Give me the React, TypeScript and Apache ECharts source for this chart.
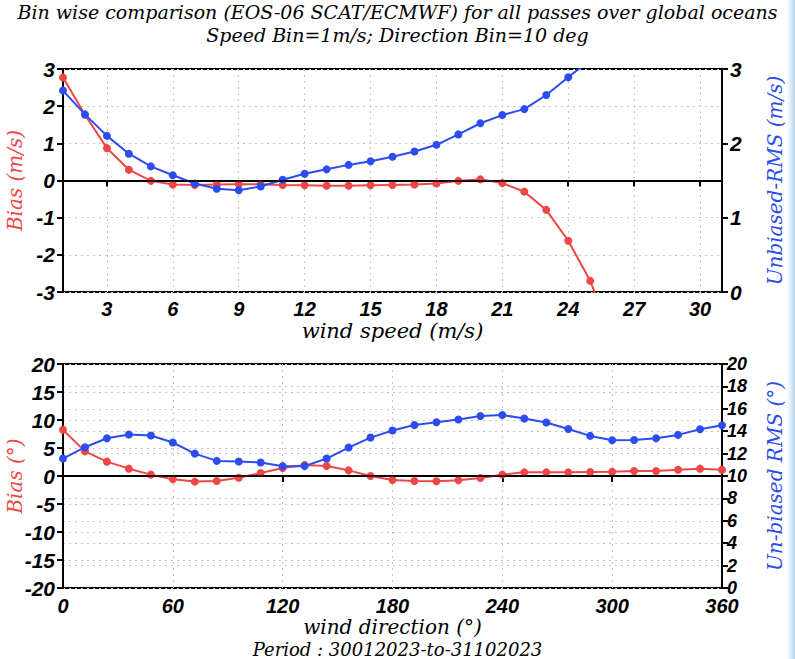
import React, { useEffect, useRef } from "react";
import * as echarts from "echarts";

const titleLine1 = "Bin wise comparison (EOS-06 SCAT/ECMWF) for all passes over global oceans";
const titleLine2 = "Speed Bin=1m/s; Direction Bin=10 deg";
const periodText = "Period : 30012023-to-31102023";

const speedBins = [1, 2, 3, 4, 5, 6, 7, 8, 9, 10, 11, 12, 13, 14, 15, 16, 17, 18, 19, 20, 21, 22, 23, 24, 25, 26];
const speedBias = [2.77, 1.77, 0.87, 0.29, -0.01, -0.11, -0.12, -0.11, -0.1, -0.1, -0.12, -0.13, -0.14, -0.14, -0.13, -0.12, -0.11, -0.08, -0.01, 0.03, -0.07, -0.3, -0.79, -1.62, -2.7, -4.2];
const speedRms = [2.71, 2.39, 2.1, 1.86, 1.69, 1.57, 1.46, 1.39, 1.37, 1.42, 1.51, 1.59, 1.65, 1.71, 1.76, 1.82, 1.89, 1.98, 2.12, 2.27, 2.38, 2.46, 2.65, 2.89, 3.12];
const speedTicks = [3, 6, 9, 12, 15, 18, 21, 24, 27, 30];

const dirBins = [0, 12, 24, 36, 48, 60, 72, 84, 96, 108, 120, 132, 144, 156, 168, 180, 192, 204, 216, 228, 240, 252, 264, 276, 288, 300, 312, 324, 336, 348, 360];
const dirBias = [8.27, 4.4, 2.56, 1.31, 0.24, -0.6, -1.0, -0.9, -0.3, 0.54, 1.43, 1.96, 1.79, 1.01, 0.0, -0.71, -0.89, -0.95, -0.77, -0.36, 0.24, 0.65, 0.65, 0.65, 0.71, 0.77, 0.89, 0.89, 1.13, 1.31, 1.13];
const dirRms = [11.56, 12.57, 13.37, 13.7, 13.61, 12.99, 12.0, 11.35, 11.29, 11.2, 10.88, 10.88, 11.56, 12.54, 13.43, 14.06, 14.56, 14.8, 15.04, 15.36, 15.45, 15.13, 14.77, 14.2, 13.58, 13.19, 13.22, 13.37, 13.67, 14.18, 14.53];

const RED = "#ef4646";
const BLUE = "#2b4cf0";

const tickFont = {
  fontFamily: "Liberation Sans",
  fontStyle: "italic" as const,
  fontWeight: "bold" as const,
  fontSize: 21,
  color: "#000",
};
const nameFont = {
  fontFamily: "DejaVu Serif",
  fontStyle: "italic" as const,
  fontSize: 20,
};
const gridLine = { show: true, lineStyle: { color: "#c4c4c4", type: [2, 4] as any, width: 1 } };
const axisLineBlack = { show: true, lineStyle: { color: "#000", width: 2 } };
const tickOut = { show: true, inside: false, length: 6, lineStyle: { color: "#000", width: 2 } };

export default function App() {
  const ref = useRef<HTMLDivElement>(null);
  useEffect(() => {
    if (!ref.current) return;
    const chart = echarts.init(ref.current, null, { renderer: "svg" });
    const zeroLine = {
      silent: true,
      symbol: "none",
      label: { show: false },
      lineStyle: { color: "#000", type: "solid", width: 1.5 },
      data: [{ yAxis: 0 }],
    };
    const gridBase = {
      show: true, borderColor: "#000", borderWidth: 2, backgroundColor: "transparent",
      containLabel: false, outerBoundsMode: "none",
    };
    const option: any = {
      animation: false,
      backgroundColor: "#fff",
      grid: [
        { ...gridBase, left: 63, top: 69, width: 659, height: 223 },
        { ...gridBase, left: 63, top: 364, width: 659, height: 224 },
      ],
      xAxis: [
        {
          type: "value", gridIndex: 0, min: 1, max: 31,
          axisLine: axisLineBlack,
          axisTick: { ...tickOut, customValues: speedTicks },
          axisLabel: { ...tickFont, fontSize: 20, margin: 7, customValues: speedTicks },
          splitLine: gridLine,
          name: "wind speed (m/s)", nameLocation: "middle", nameGap: 28, nameMoveOverlap: false,
          nameTextStyle: { ...nameFont, fontSize: 21, color: "#000" },
        },
        {
          type: "value", gridIndex: 1, min: 0, max: 360, interval: 60,
          axisLine: axisLineBlack,
          axisTick: tickOut,
          axisLabel: { ...tickFont, fontSize: 20, margin: 9, lineHeight: 18 },
          splitLine: gridLine,
          name: "wind direction (°)", nameLocation: "middle", nameGap: 29, nameMoveOverlap: false,
          nameTextStyle: { ...nameFont, fontSize: 20, color: "#000" },
        },
      ],
      yAxis: [
        {
          type: "value", gridIndex: 0, min: -3, max: 3, interval: 1, position: "left",
          axisLine: axisLineBlack, axisTick: tickOut,
          axisLabel: { ...tickFont, margin: 8 },
          splitLine: gridLine,
          name: "Bias (m/s)", nameLocation: "middle", nameGap: 38, nameMoveOverlap: false,
          nameTextStyle: { ...nameFont, color: RED },
        },
        {
          type: "value", gridIndex: 0, min: 0, max: 3, interval: 1, position: "right",
          axisLine: axisLineBlack, axisTick: tickOut,
          axisLabel: { ...tickFont, margin: 8 },
          splitLine: { show: false },
          name: "Unbiased-RMS (m/s)", nameLocation: "middle", nameGap: 43, nameMoveOverlap: false,
          nameTextStyle: { ...nameFont, color: BLUE },
        },
        {
          type: "value", gridIndex: 1, min: -20, max: 20, interval: 5, position: "left",
          axisLine: axisLineBlack, axisTick: tickOut,
          axisLabel: { ...tickFont, margin: 8 },
          splitLine: gridLine,
          name: "Bias (°)", nameLocation: "middle", nameGap: 38, nameMoveOverlap: false,
          nameTextStyle: { ...nameFont, color: RED },
        },
        {
          type: "value", gridIndex: 1, min: 0, max: 20, interval: 2, position: "right",
          axisLine: axisLineBlack, axisTick: tickOut,
          axisLabel: { ...tickFont, fontSize: 18, margin: 5, lineHeight: 12 },
          splitLine: gridLine,
          name: "Un-biased RMS (°)", nameLocation: "middle", nameGap: 43, nameMoveOverlap: false,
          nameTextStyle: { ...nameFont, color: BLUE },
        },
      ],
      series: [
        {
          type: "line", xAxisIndex: 0, yAxisIndex: 0, clip: true,
          data: speedBias.map((v, i) => [speedBins[i], v]),
          symbol: "circle", symbolSize: 8,
          itemStyle: { color: RED }, lineStyle: { color: RED, width: 2 },
          markLine: zeroLine, z: 3,
        },
        {
          type: "line", xAxisIndex: 0, yAxisIndex: 1, clip: true,
          data: speedRms.map((v, i) => [speedBins[i], v]),
          symbol: "circle", symbolSize: 8,
          itemStyle: { color: BLUE }, lineStyle: { color: BLUE, width: 2 }, z: 4,
        },
        {
          type: "line", xAxisIndex: 1, yAxisIndex: 2, clip: true,
          data: dirBias.map((v, i) => [dirBins[i], v]),
          symbol: "circle", symbolSize: 8,
          itemStyle: { color: RED }, lineStyle: { color: RED, width: 2 },
          markLine: zeroLine, z: 3,
        },
        {
          type: "line", xAxisIndex: 1, yAxisIndex: 3, clip: true,
          data: dirRms.map((v, i) => [dirBins[i], v]),
          symbol: "circle", symbolSize: 8,
          itemStyle: { color: BLUE }, lineStyle: { color: BLUE, width: 2 }, z: 4,
        },
      ],
      graphic: [
        {
          type: "text", left: "center", top: 2,
          style: { text: titleLine1, font: "italic 19px 'DejaVu Serif'", fill: "#000" },
        },
        {
          type: "text", left: "center", top: 25,
          style: { text: titleLine2, font: "italic 19px 'DejaVu Serif'", fill: "#000" },
        },
        {
          type: "text", left: "center", top: 640,
          style: { text: periodText, font: "italic 18px 'DejaVu Serif'", fill: "#000" },
        },
        {
          type: "rect", shape: { x: 786, y: 0, width: 9, height: 659 }, silent: true,
          style: {
            fill: new echarts.graphic.LinearGradient(0, 0, 1, 0, [
              { offset: 0, color: "rgba(200,225,245,0)" },
              { offset: 1, color: "rgba(170,205,235,0.9)" },
            ]),
          },
        },
      ],
    };
    chart.setOption(option);
    return () => chart.dispose();
  }, []);
  return <div ref={ref} style={{ position: "fixed", left: 0, top: 0, width: 795, height: 659 }} />;
}
